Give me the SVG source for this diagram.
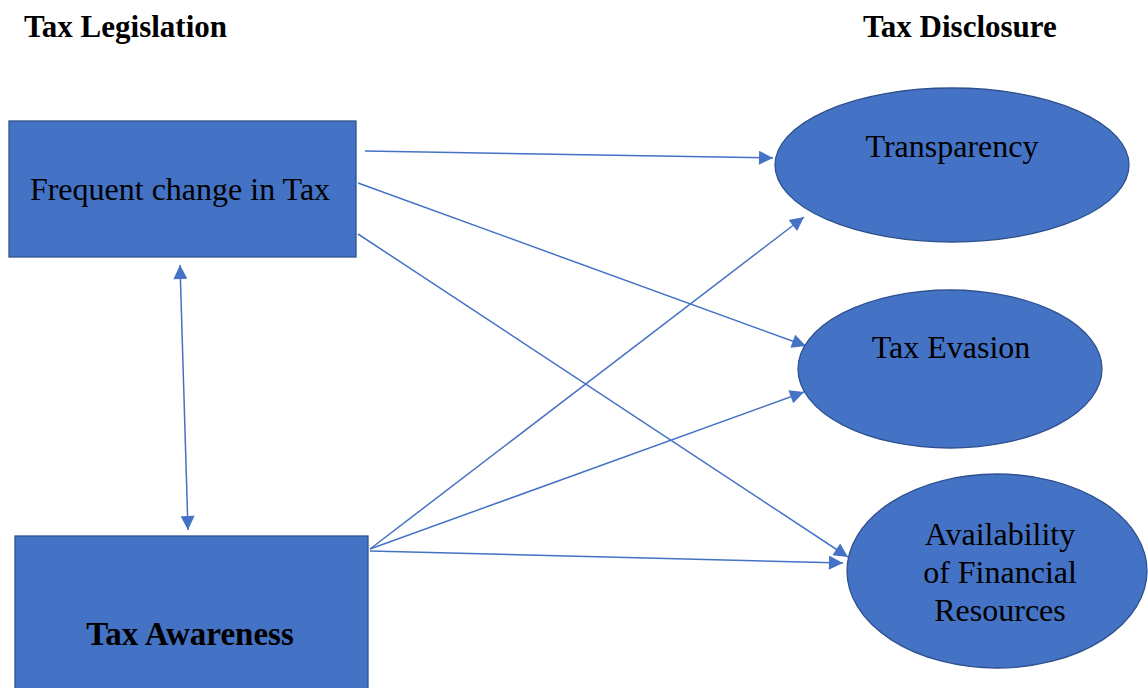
<svg xmlns="http://www.w3.org/2000/svg" width="1148" height="688" viewBox="0 0 1148 688">
<style>
.node{fill:#4472C4;stroke:#2F528F;stroke-width:1.3}
.t{font-family:"Liberation Serif",serif;font-size:32px;fill:#000;text-anchor:middle}
.b{font-family:"Liberation Serif",serif;font-size:31px;font-weight:bold;fill:#000}
.c{stroke:#4472C4;stroke-width:1.5;fill:none;marker-end:url(#ah)}
</style>
<defs>
<marker id="ah" viewBox="0 0 10 10" refX="10" refY="5" markerWidth="16" markerHeight="14" markerUnits="userSpaceOnUse" orient="auto-start-reverse">
<path d="M0,0 L10,5 L0,10 z" fill="#4472C4"/>
</marker>
</defs>
<rect width="1148" height="688" fill="#fff"/>
<text class="b" x="24" y="37">Tax Legislation</text>
<text class="b" x="863" y="37">Tax Disclosure</text>
<g id="connectors">
<line class="c" x1="365" y1="151" x2="773" y2="158"/>
<line class="c" x1="358" y1="183" x2="806" y2="346"/>
<line class="c" x1="358" y1="234" x2="848" y2="557"/>
<line class="c" x1="370" y1="549" x2="804" y2="217"/>
<line class="c" x1="370" y1="549" x2="804" y2="392"/>
<line class="c" x1="370" y1="551" x2="843" y2="563"/>
<line class="c" x1="180" y1="265" x2="188" y2="530" style="marker-start:url(#ah)"/>
</g>
<g id="frequent">
<rect class="node" x="9" y="121" width="347" height="136"/>
<text class="t" x="180" y="200">Frequent change in Tax</text>
</g>
<g id="awareness">
<rect class="node" x="15" y="536" width="353" height="160"/>
<text class="b" x="190" y="645" text-anchor="middle" style="font-size:33px">Tax Awareness</text>
</g>
<g id="transparency">
<ellipse class="node" cx="952" cy="165" rx="177" ry="77"/>
<text class="t" x="952" y="157">Transparency</text>
</g>
<g id="evasion">
<ellipse class="node" cx="950" cy="369" rx="152" ry="79"/>
<text class="t" x="951" y="358">Tax Evasion</text>
</g>
<g id="availability">
<ellipse class="node" cx="997" cy="571" rx="150" ry="97"/>
<text class="t" x="1000" y="545">Availability</text>
<text class="t" x="1000" y="583">of Financial</text>
<text class="t" x="1000" y="621">Resources</text>
</g>
</svg>
